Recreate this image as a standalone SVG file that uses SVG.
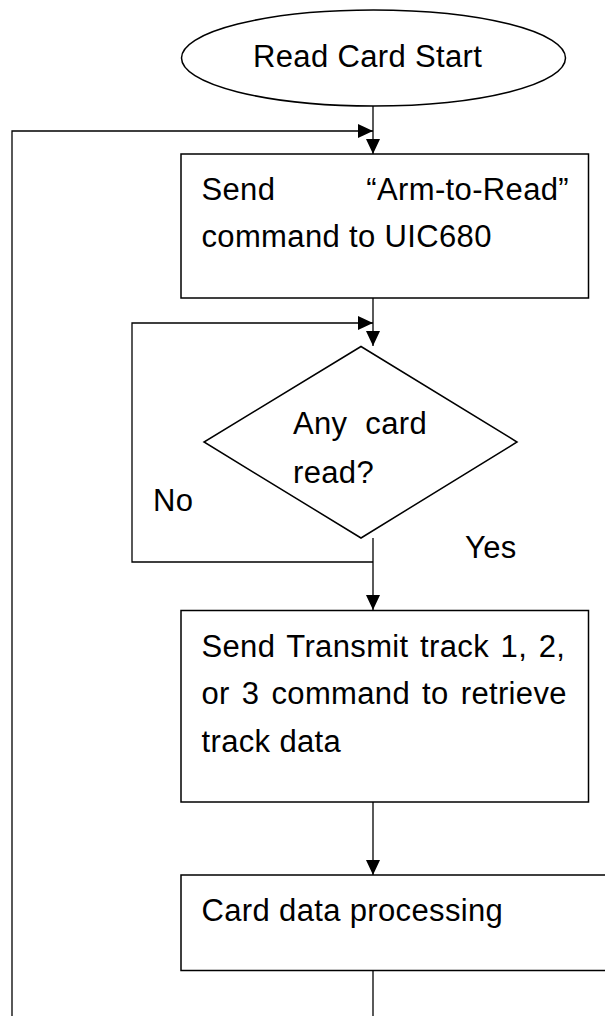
<svg xmlns="http://www.w3.org/2000/svg" width="605" height="1016" viewBox="0 0 605 1016">
<style>
.shape{fill:#fff;stroke:#000;stroke-width:1.5}
.conn{fill:none;stroke:#000;stroke-width:1.3}
text{font-family:"Liberation Sans",Arial,sans-serif;font-size:31px;letter-spacing:0.35px;fill:#000}
</style>
<defs>
<marker id="arr" markerUnits="userSpaceOnUse" markerWidth="16" markerHeight="14" refX="15" refY="7" orient="auto">
<path d="M0,0 L15,7 L0,14 z" fill="#000"/>
</marker>
</defs>
<rect width="605" height="1016" fill="#fff"/>
<g id="connectors">
<line class="conn" x1="373" y1="106" x2="373" y2="154" marker-end="url(#arr)"/>
<polyline class="conn" points="12,1016 12,131 373,131" marker-end="url(#arr)"/>
<line class="conn" x1="373" y1="298" x2="373" y2="346" marker-end="url(#arr)"/>
<polyline class="conn" points="373,562 132,562 132,323 373,323" marker-end="url(#arr)"/>
<line class="conn" x1="373" y1="538" x2="373" y2="610" marker-end="url(#arr)"/>
<line class="conn" x1="373" y1="802" x2="373" y2="875" marker-end="url(#arr)"/>
<line class="conn" x1="373" y1="970" x2="373" y2="1016"/>
<text x="153" y="511">No</text>
<text x="465" y="558">Yes</text>
</g>
<g id="start">
<ellipse class="shape" cx="373.5" cy="58" rx="192" ry="48"/>
<text x="253" y="67">Read Card Start</text>
</g>
<g id="arm">
<rect class="shape" x="181" y="154" width="407.5" height="144"/>
<text x="201.5" y="200">Send</text>
<text x="569" y="200" text-anchor="end">“Arm-to-Read”</text>
<text x="201.5" y="247">command to UIC680</text>
</g>
<g id="decision">
<polygon class="shape" points="361,346.5 517,442 361,538 204,442"/>
<text x="293" y="434">Any</text>
<text x="427" y="434" text-anchor="end">card</text>
<text x="293" y="483">read?</text>
</g>
<g id="transmit">
<rect class="shape" x="181" y="610.5" width="407.5" height="191.5"/>
<text x="201.5" y="657" style="word-spacing:2.6px">Send Transmit track 1, 2,</text>
<text x="201.5" y="704" style="word-spacing:3.1px">or 3 command to retrieve</text>
<text x="201.5" y="752">track data</text>
</g>
<g id="process">
<rect class="shape" x="181" y="875" width="440" height="95.5"/>
<text x="201.5" y="921">Card data processing</text>
</g>
</svg>
